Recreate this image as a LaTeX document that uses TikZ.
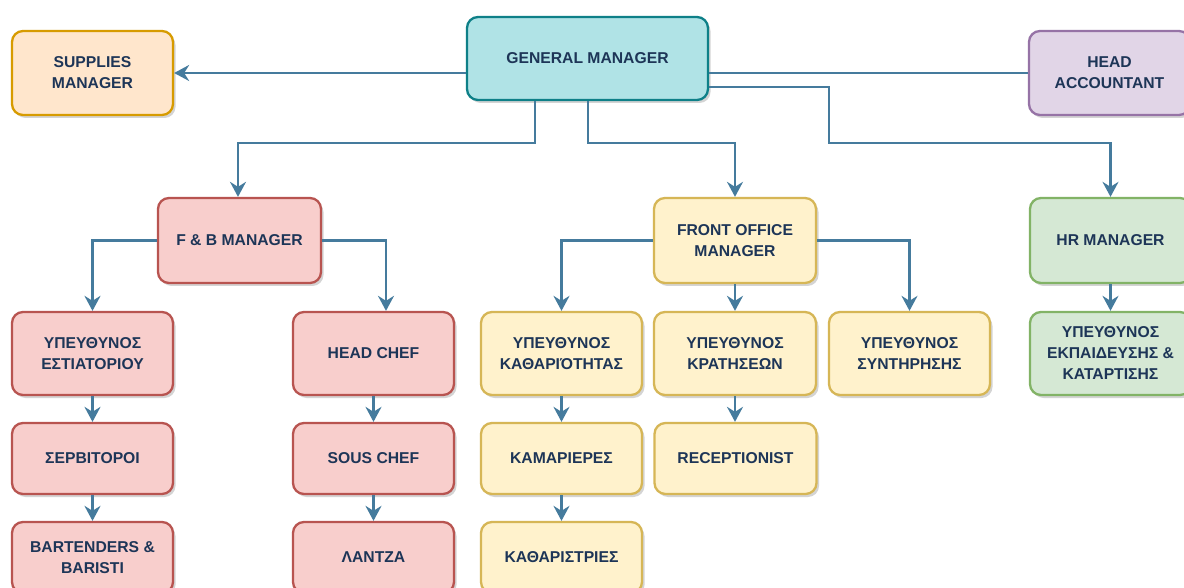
\documentclass[tikz,border=0pt]{standalone}
\usepackage{fontspec}
\setmainfont{Liberation Sans}
\usetikzlibrary{arrows.meta,shadows}
\definecolor{edge}{HTML}{457B9D}
\definecolor{txt}{HTML}{1D3557}
\definecolor{gmF}{HTML}{B0E3E6}\definecolor{gmS}{HTML}{0E8088}
\definecolor{orF}{HTML}{FFE6CC}\definecolor{orS}{HTML}{D79B00}
\definecolor{puF}{HTML}{E1D5E7}\definecolor{puS}{HTML}{9673A6}
\definecolor{reF}{HTML}{F8CECC}\definecolor{reS}{HTML}{B85450}
\definecolor{yeF}{HTML}{FFF2CC}\definecolor{yeS}{HTML}{D6B656}
\definecolor{grF}{HTML}{D5E8D4}\definecolor{grS}{HTML}{82B366}
\tikzset{
  box/.style={rounded corners=11pt, line width=2.3pt, inner sep=0pt, align=center,
    minimum width=161pt, minimum height=83pt, text=txt,
    font=\fontsize{15.7}{21}\selectfont\bfseries,
    drop shadow={shadow xshift=2.5pt, shadow yshift=-3pt, opacity=0.28, fill=black!60}},
  small/.style={minimum height=71pt},
  gmbox/.style={box, fill=gmF, draw=gmS},
  orbox/.style={box, fill=orF, draw=orS},
  pubox/.style={box, fill=puF, draw=puS},
  rebox/.style={box, fill=reF, draw=reS},
  yebox/.style={box, fill=yeF, draw=yeS},
  grbox/.style={box, fill=grF, draw=grS},
  arr/.style={draw=edge, line width=2.3pt, -{Stealth[length=15pt,width=16pt,inset=5pt]}},
  ln/.style={draw=edge, line width=2.3pt}
}
\begin{document}
\begin{tikzpicture}[x=1pt,y=-1pt]
\useasboundingbox[fill=white] (0,0) rectangle (1184,588);
% top row
\node[gmbox, minimum width=241pt] (gm) at (587.5,58.5) {GENERAL MANAGER};
\node[orbox, minimum height=84pt] (sup) at (92.5,73) {SUPPLIES\\MANAGER};
\node[pubox, minimum height=84pt] (ha) at (1109.5,73) {HEAD\\ACCOUNTANT};
% managers
\node[rebox, minimum width=163pt, minimum height=85pt] (fb) at (239.5,240.5) {F \& B MANAGER};
\node[yebox, minimum width=162pt, minimum height=85pt] (fo) at (735,240.5) {FRONT OFFICE\\MANAGER};
\node[grbox, minimum height=85pt] (hr) at (1110.5,240.5) {HR MANAGER};
% row 2
\node[rebox] (est) at (92.5,353.5) {ΥΠΕΥΘΥΝΟΣ\\ΕΣΤΙΑΤΟΡΙΟΥ};
\node[rebox] (hc) at (373.5,353.5) {HEAD CHEF};
\node[yebox] (kath) at (561.5,353.5) {ΥΠΕΥΘΥΝΟΣ\\ΚΑΘΑΡΙΌΤΗΤΑΣ};
\node[yebox, minimum width=162pt] (krat) at (735,353.5) {ΥΠΕΥΘΥΝΟΣ\\ΚΡΑΤΗΣΕΩΝ};
\node[yebox] (synt) at (909.5,353.5) {ΥΠΕΥΘΥΝΟΣ\\ΣΥΝΤΗΡΗΣΗΣ};
\node[grbox] (ekp) at (1110.5,353.5) {ΥΠΕΥΘΥΝΟΣ\\ΕΚΠΑΙΔΕΥΣΗΣ \&\\ΚΑΤΑΡΤΙΣΗΣ};
% row 3
\node[rebox, small] (ser) at (92.5,458.5) {ΣΕΡΒΙΤΟΡΟΙ};
\node[rebox, small] (sous) at (373.5,458.5) {SOUS CHEF};
\node[yebox, small] (kam) at (561.5,458.5) {ΚΑΜΑΡΙΕΡΕΣ};
\node[yebox, small, minimum width=162pt] (rec) at (735.5,458.5) {RECEPTIONIST};
% row 4
\node[rebox, small] (bar) at (92.5,557.5) {BARTENDERS \&\\BARISTI};
\node[rebox, small] (lan) at (373.5,557.5) {ΛΑΝΤΖΑ};
\node[yebox, small] (kathar) at (561.5,557.5) {ΚΑΘΑΡΙΣΤΡΙΕΣ};
% connectors from GM
\draw[arr] (gm.west |- sup) -- (sup);
\draw[ln] (gm.east |- ha) -- (ha);
\draw[arr] (gm.east |- 0,87) -| (829,143) -| (hr.north);
\draw[arr] (gm.south -| 535,0) |- (238,143) -- (fb.north -| 238,0);
\draw[arr] (gm.south -| 588,0) |- (fo.north |- 0,143) -- (fo.north);
% F&B
\draw[arr] (fb.west) -| (est.north);
\draw[arr] (fb.east) -| ([xshift=12.5pt]hc.north);
\draw[arr] (est) -- (ser);
\draw[arr] (ser) -- (bar);
\draw[arr] (hc) -- (sous);
\draw[arr] (sous) -- (lan);
% Front office
\draw[arr] (fo.west) -| (kath.north);
\draw[arr] (fo) -- (krat);
\draw[arr] (fo.east) -| (synt.north);
\draw[arr] (kath) -- (kam);
\draw[arr] (kam) -- (kathar);
\draw[arr] (krat) -- (rec.north -| krat);
% HR
\draw[arr] (hr) -- (ekp);
\end{tikzpicture}
\end{document}
